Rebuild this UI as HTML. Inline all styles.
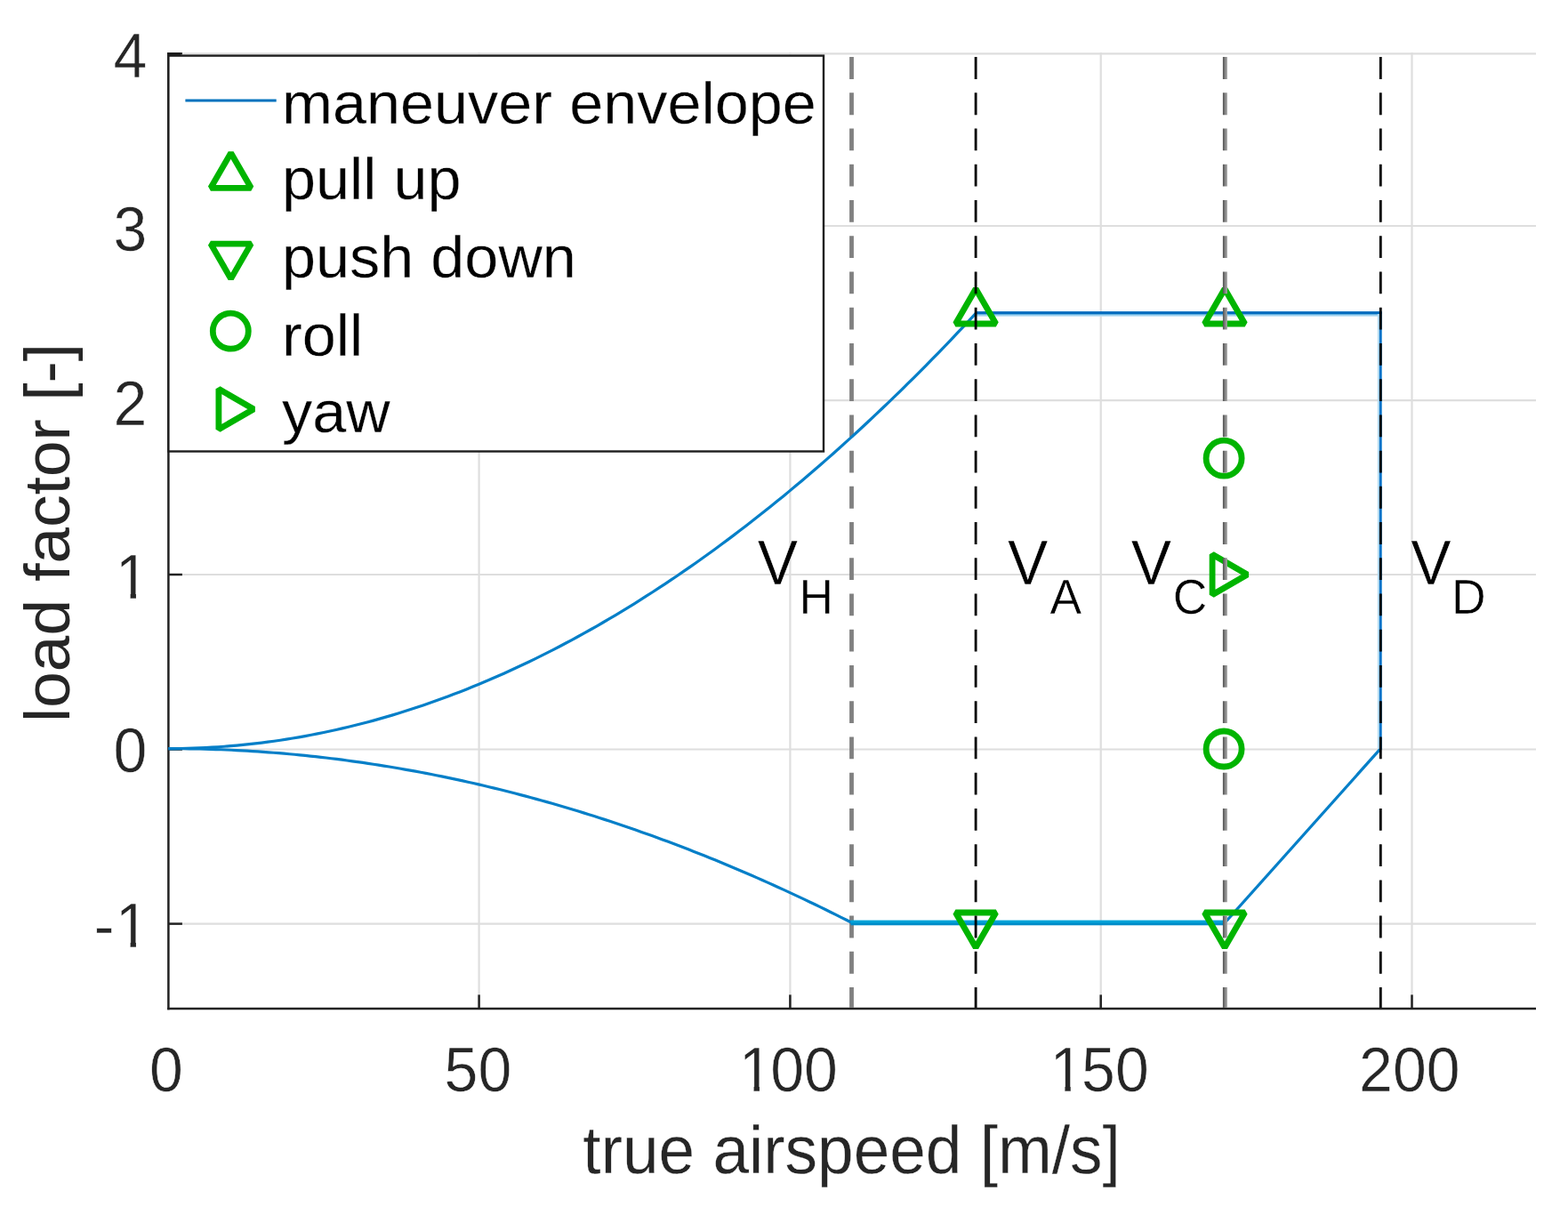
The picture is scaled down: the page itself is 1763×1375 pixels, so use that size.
<!DOCTYPE html>
<html lang="en">
<head>
<meta charset="utf-8">
<title>maneuver envelope</title>
<style>
html,body{margin:0;padding:0;background:#fff;}
body{width:1763px;height:1375px;overflow:hidden;}
svg{display:block;}
text{font-family:"Liberation Sans",Arial,Helvetica,sans-serif;}
</style>
</head>
<body>
<svg width="1763" height="1375" viewBox="0 0 1763 1375">
<rect x="0" y="0" width="1763" height="1375" fill="#ffffff"/>
<g stroke="#dedede" stroke-width="2.2" fill="none">
<line x1="538.60" y1="59.00" x2="538.60" y2="1133.90"/>
<line x1="888.40" y1="59.00" x2="888.40" y2="1133.90"/>
<line x1="1237.70" y1="59.00" x2="1237.70" y2="1133.90"/>
<line x1="1587.50" y1="59.00" x2="1587.50" y2="1133.90"/>
<line x1="189.40" y1="60.30" x2="1727.00" y2="60.30"/>
<line x1="189.40" y1="254.00" x2="1727.00" y2="254.00"/>
<line x1="189.40" y1="450.10" x2="1727.00" y2="450.10"/>
<line x1="189.40" y1="646.00" x2="1727.00" y2="646.00"/>
<line x1="189.40" y1="842.50" x2="1727.00" y2="842.50"/>
<line x1="189.40" y1="1038.60" x2="1727.00" y2="1038.60"/>
</g>
<g stroke="#222222" stroke-width="2.5" fill="none">
<line x1="189.40" y1="59.00" x2="189.40" y2="1135.20"/>
<line x1="188.10" y1="1133.90" x2="1727.00" y2="1133.90"/>
<line x1="538.60" y1="1133.90" x2="538.60" y2="1118.40"/>
<line x1="888.40" y1="1133.90" x2="888.40" y2="1118.40"/>
<line x1="1237.70" y1="1133.90" x2="1237.70" y2="1118.40"/>
<line x1="1587.50" y1="1133.90" x2="1587.50" y2="1118.40"/>
<line x1="189.40" y1="60.30" x2="204.90" y2="60.30"/>
<line x1="189.40" y1="254.00" x2="204.90" y2="254.00"/>
<line x1="189.40" y1="450.10" x2="204.90" y2="450.10"/>
<line x1="189.40" y1="646.00" x2="204.90" y2="646.00"/>
<line x1="189.40" y1="842.50" x2="204.90" y2="842.50"/>
<line x1="189.40" y1="1038.60" x2="204.90" y2="1038.60"/>
</g>
<g fill="none">
<line x1="957.50" y1="64.10" x2="957.50" y2="1132.90" stroke="#808080" stroke-width="4.80" stroke-dasharray="24.8 15.43"/>
</g>
<g stroke="#057fc8" stroke-width="3.2" fill="none" stroke-linejoin="round">
<polyline points="189.40,841.60 196.38,841.57 203.36,841.48 210.35,841.34 217.33,841.14 224.31,840.88 231.29,840.56 238.28,840.18 245.26,839.75 252.24,839.26 259.22,838.71 266.21,838.10 273.19,837.43 280.17,836.71 287.15,835.93 294.13,835.09 301.12,834.19 308.10,833.23 315.08,832.22 322.06,831.15 329.05,830.02 336.03,828.83 343.01,827.59 349.99,826.29 356.98,824.93 363.96,823.51 370.94,822.03 377.92,820.50 384.90,818.91 391.89,817.26 398.87,815.55 405.85,813.78 412.83,811.96 419.82,810.08 426.80,808.14 433.78,806.14 440.76,804.09 447.75,801.97 454.73,799.80 461.71,797.57 468.69,795.29 475.67,792.94 482.66,790.54 489.64,788.08 496.62,785.56 503.60,782.98 510.59,780.35 517.57,777.66 524.55,774.91 531.53,772.10 538.52,769.23 545.50,766.31 552.48,763.33 559.46,760.29 566.44,757.19 573.43,754.04 580.41,750.82 587.39,747.55 594.37,744.22 601.36,740.84 608.34,737.39 615.32,733.89 622.30,730.33 629.29,726.71 636.27,723.03 643.25,719.30 650.23,715.51 657.21,711.66 664.20,707.75 671.18,703.78 678.16,699.76 685.14,695.68 692.13,691.54 699.11,687.34 706.09,683.09 713.07,678.77 720.06,674.40 727.04,669.97 734.02,665.49 741.00,660.94 747.98,656.34 754.97,651.68 761.95,646.96 768.93,642.19 775.91,637.35 782.90,632.46 789.88,627.51 796.86,622.50 803.84,617.44 810.83,612.31 817.81,607.13 824.79,601.89 831.77,596.59 838.75,591.24 845.74,585.83 852.72,580.36 859.70,574.83 866.68,569.24 873.67,563.60 880.65,557.89 887.63,552.13 894.61,546.31 901.60,540.44 908.58,534.50 915.56,528.51 922.54,522.46 929.52,516.35 936.51,510.19 943.49,503.97 950.47,497.68 957.45,491.34 964.44,484.95 971.42,478.49 978.40,471.98 985.38,465.41 992.37,458.78 999.35,452.09 1006.33,445.35 1013.31,438.55 1020.29,431.69 1027.28,424.77 1034.26,417.79 1041.24,410.76 1048.22,403.66 1055.21,396.51 1062.19,389.31 1069.17,382.04 1076.15,374.72 1083.14,367.34 1090.12,359.90 1097.10,352.40"/>
<polyline points="189.40,841.60 195.31,841.61 201.22,841.65 207.13,841.70 213.03,841.79 218.94,841.89 224.85,842.02 230.76,842.17 236.67,842.34 242.58,842.54 248.48,842.76 254.39,843.00 260.30,843.27 266.21,843.56 272.12,843.87 278.03,844.21 283.94,844.56 289.84,844.95 295.75,845.35 301.66,845.78 307.57,846.23 313.48,846.71 319.39,847.20 325.29,847.73 331.20,848.27 337.11,848.84 343.02,849.43 348.93,850.04 354.84,850.68 360.75,851.34 366.65,852.02 372.56,852.73 378.47,853.46 384.38,854.21 390.29,854.99 396.20,855.79 402.10,856.61 408.01,857.45 413.92,858.32 419.83,859.21 425.74,860.13 431.65,861.07 437.56,862.03 443.46,863.01 449.37,864.02 455.28,865.05 461.19,866.10 467.10,867.18 473.01,868.28 478.91,869.40 484.82,870.55 490.73,871.72 496.64,872.91 502.55,874.13 508.46,875.37 514.37,876.63 520.27,877.91 526.18,879.22 532.09,880.55 538.00,881.91 543.91,883.29 549.82,884.69 555.72,886.11 561.63,887.56 567.54,889.03 573.45,890.52 579.36,892.04 585.27,893.58 591.18,895.15 597.08,896.73 602.99,898.34 608.90,899.97 614.81,901.63 620.72,903.31 626.63,905.01 632.53,906.74 638.44,908.49 644.35,910.26 650.26,912.05 656.17,913.87 662.08,915.71 667.99,917.58 673.89,919.46 679.80,921.37 685.71,923.31 691.62,925.26 697.53,927.24 703.44,929.25 709.34,931.27 715.25,933.32 721.16,935.40 727.07,937.49 732.98,939.61 738.89,941.75 744.80,943.92 750.70,946.11 756.61,948.32 762.52,950.56 768.43,952.81 774.34,955.09 780.25,957.40 786.15,959.73 792.06,962.08 797.97,964.45 803.88,966.85 809.79,969.27 815.70,971.71 821.61,974.18 827.51,976.67 833.42,979.18 839.33,981.72 845.24,984.28 851.15,986.86 857.06,989.46 862.96,992.09 868.87,994.74 874.78,997.42 880.69,1000.12 886.60,1002.84 892.51,1005.58 898.42,1008.35 904.32,1011.14 910.23,1013.95 916.14,1016.79 922.05,1019.65 927.96,1022.54 933.87,1025.44 939.77,1028.37 945.68,1031.32 951.59,1034.30 957.50,1037.30"/>
<polyline points="1377.40,1037.30 1552.30,841.60"/>
</g>
<linearGradient id="gt" gradientUnits="userSpaceOnUse" x1="0" y1="350.3" x2="0" y2="356.0"><stop offset="0" stop-color="#006cbe"/><stop offset="0.47" stop-color="#006cbe"/><stop offset="0.58" stop-color="#86c6ea"/><stop offset="1" stop-color="#cfe8f7"/></linearGradient>
<rect x="1098.10" y="350.3" width="452.80" height="5.6" fill="url(#gt)"/>
<rect x="1096.60" y="350.3" width="457.10" height="2.8" fill="#006cbe"/>
<linearGradient id="gb" gradientUnits="userSpaceOnUse" x1="0" y1="1034.6" x2="0" y2="1040.3"><stop offset="0" stop-color="#00a6da"/><stop offset="0.45" stop-color="#00a0d6"/><stop offset="0.65" stop-color="#008cc8"/><stop offset="1" stop-color="#008cc8"/></linearGradient>
<rect x="956.50" y="1034.6" width="422.40" height="5.7" fill="url(#gb)"/>
<rect x="1548.8" y="353.0" width="2.4" height="488.60" fill="#b9def3"/>
<rect x="1550.9" y="350.3" width="2.8" height="492.30" fill="#0072c8"/>
<g stroke="#00b400" stroke-width="6.8" fill="none" stroke-linejoin="bevel">
<polygon points="1097.10,324.70 1119.79,364.00 1074.41,364.00"/>
<polygon points="1377.00,324.70 1399.69,364.00 1354.31,364.00"/>
<polygon points="1097.10,1065.30 1074.41,1026.00 1119.79,1026.00"/>
<polygon points="1377.00,1065.30 1354.31,1026.00 1399.69,1026.00"/>
<circle cx="1376.10" cy="515.20" r="20.00"/>
<circle cx="1376.10" cy="842.00" r="20.00"/>
<polygon points="1402.40,646.00 1363.10,668.69 1363.10,623.31"/>
</g>
<g fill="none">
<line x1="1097.10" y1="64.10" x2="1097.10" y2="1132.90" stroke="#000" stroke-width="2.80" stroke-dasharray="24.8 15.43"/>
<linearGradient id="vcg" gradientUnits="userSpaceOnUse" x1="1374.9" y1="0" x2="1379.9" y2="0"><stop offset="0" stop-color="#4c4c4c"/><stop offset="0.45" stop-color="#7e7e7e"/><stop offset="1" stop-color="#a8a8a8"/></linearGradient>
<line x1="1377.40" y1="64.10" x2="1377.40" y2="1132.90" stroke="url(#vcg)" stroke-width="5.00" stroke-dasharray="24.8 15.43"/>
<line x1="1552.30" y1="64.10" x2="1552.30" y2="1132.90" stroke="#000" stroke-width="2.80" stroke-dasharray="24.8 15.43"/>
</g>
<text transform="translate(851.8,657.3) scale(1,1.045)" font-size="68" fill="#000" stroke="#fff" stroke-width="0.5">V<tspan x="46.7" dy="31.3" font-size="53.5">H</tspan></text>
<text transform="translate(1133.0,657.3) scale(1,1.045)" font-size="68" fill="#000" stroke="#fff" stroke-width="0.5">V<tspan x="47.5" dy="31.3" font-size="53.5">A</tspan></text>
<text transform="translate(1271.8,657.3) scale(1,1.045)" font-size="68" fill="#000" stroke="#fff" stroke-width="0.5">V<tspan x="47.0" dy="31.3" font-size="53.5">C</tspan></text>
<text transform="translate(1586.2,657.3) scale(1,1.045)" font-size="68" fill="#000" stroke="#fff" stroke-width="0.5">V<tspan x="45.8" dy="31.3" font-size="53.5">D</tspan></text>
<rect x="189.40" y="62.60" width="736.60" height="444.90" fill="#fff" stroke="#1e1e1e" stroke-width="2.4"/>
<rect x="188.1" y="59.1" width="15" height="3" fill="#1c1c1c"/>
<text transform="translate(317.0,138.9) scale(1.006,0.980)" font-size="68" fill="#000" stroke="#fff" stroke-width="0.3">maneuver envelope</text>
<text transform="translate(317.0,224.2) scale(1.006,0.980)" font-size="68" fill="#000" stroke="#fff" stroke-width="0.3">pull up</text>
<text transform="translate(317.0,311.8) scale(1.006,0.980)" font-size="68" fill="#000" stroke="#fff" stroke-width="0.3">push down</text>
<text transform="translate(317.0,400.2) scale(1.006,0.980)" font-size="68" fill="#000" stroke="#fff" stroke-width="0.3">roll</text>
<text transform="translate(317.0,485.8) scale(1.006,0.980)" font-size="68" fill="#000" stroke="#fff" stroke-width="0.3">yaw</text>
<line x1="208.4" y1="113.0" x2="310.7" y2="113.0" stroke="#0072bd" stroke-width="3"/>
<g stroke="#00b400" stroke-width="6.8" fill="none" stroke-linejoin="bevel">
<polygon points="259.60,172.00 282.29,211.30 236.91,211.30"/>
<polygon points="259.60,313.40 236.91,274.10 282.29,274.10"/>
<circle cx="259.30" cy="372.20" r="20.00"/>
<polygon points="285.20,460.00 245.90,482.69 245.90,437.31"/>
</g>
<defs>
<clipPath id="one0" clipPathUnits="userSpaceOnUse"><path clip-rule="evenodd" d="M-20,-70H140V20H-20Z M4.20,-6H19.15V3H4.20Z M25.45,-6H39.80V3H25.45Z"/></clipPath>
<clipPath id="one1" clipPathUnits="userSpaceOnUse"><path clip-rule="evenodd" d="M-20,-70H140V20H-20Z M26.84,-6H41.79V3H26.84Z M48.09,-6H62.44V3H48.09Z"/></clipPath>
</defs>
<g font-size="68" fill="#262626" stroke="#fff" stroke-width="0.5">
<text transform="translate(127.48,86.60) scale(1,1.040)" x="0.00" y="0.00">4</text>
<text transform="translate(127.48,282.20) scale(1,1.040)" x="0.00" y="0.00">3</text>
<text transform="translate(127.48,478.40) scale(1,1.040)" x="0.00" y="0.00">2</text>
<text transform="translate(127.48,672.80) scale(1,1.040)" x="2.20" y="0.00" clip-path="url(#one0)">1</text>
<text transform="translate(127.48,868.20) scale(1,1.040)" x="0.00" y="0.00">0</text>
<text transform="translate(104.83,1064.80) scale(1,1.040)" x="1.00 24.84" y="0.60 0.00" clip-path="url(#one1)">-1</text>
<text transform="translate(167.89,1226.80) scale(1,1.040)" x="0.00" y="0.00">0</text>
<text transform="translate(499.58,1226.80) scale(1,1.040)" x="0.00 37.82" y="0.00 0.00">50</text>
<text transform="translate(828.47,1226.80) scale(1,1.040)" x="2.20 37.82 75.64" y="0.00 0.00 0.00" clip-path="url(#one0)">100</text>
<text transform="translate(1178.27,1226.80) scale(1,1.040)" x="2.20 37.82 75.64" y="0.00 0.00 0.00" clip-path="url(#one0)">150</text>
<text transform="translate(1528.07,1226.80) scale(1,1.040)" x="0.00 37.82 75.64" y="0.00 0.00 0.00">200</text>
</g>
<g font-size="73" fill="#262626" stroke="#fff" stroke-width="0.3">
<text transform="translate(957.6,1319) scale(1,1.03)" text-anchor="middle">true airspeed [m/s]</text>
<text transform="translate(77.8,599) rotate(-90)" text-anchor="middle" stroke="none">load factor [-]</text>
</g>
</svg>
</body>
</html>
